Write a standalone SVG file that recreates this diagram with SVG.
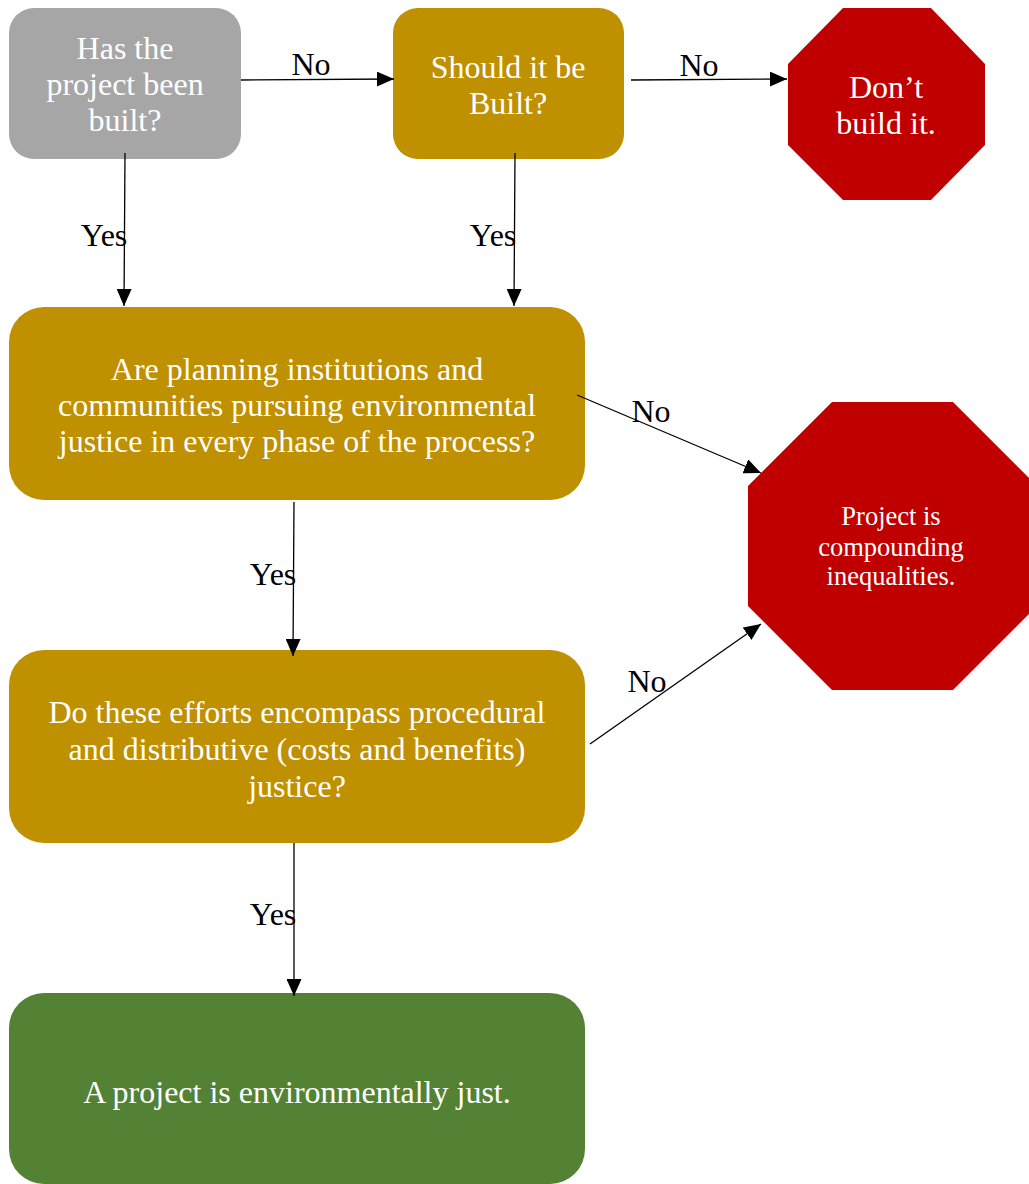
<svg xmlns="http://www.w3.org/2000/svg" width="1029" height="1184" viewBox="0 0 1029 1184">
  <style>
    .node-text { font-family: "Liberation Serif", "Times New Roman", serif; font-size: 32px; fill: #ffffff; text-anchor: middle; }
    .small-text { font-size: 26.5px; }
    .label { font-family: "Liberation Serif", "Times New Roman", serif; font-size: 32px; fill: #000000; text-anchor: middle; }
    .conn { stroke: #000000; stroke-width: 1.3; fill: none; marker-end: url(#arrow); }
    .gray { fill: #a6a6a6; }
    .gold { fill: #bf9000; }
    .red { fill: #c00000; }
    .green { fill: #548235; }
  </style>
  <defs>
    <marker id="arrow" markerUnits="userSpaceOnUse" markerWidth="17" markerHeight="15" refX="17" refY="7.5" orient="auto">
      <path d="M0,0 L17,7.5 L0,15 Z" fill="#000000"/>
    </marker>
  </defs>

  <rect width="1029" height="1184" fill="#ffffff"/>

  <g id="node-built">
    <rect class="gray" x="9" y="8" width="232" height="151" rx="25" ry="25"/>
    <text class="node-text" x="125" y="59">Has the</text>
    <text class="node-text" x="125" y="95">project been</text>
    <text class="node-text" x="125" y="131">built?</text>
  </g>

  <g id="node-should">
    <rect class="gold" x="393" y="8" width="231" height="151" rx="25" ry="25"/>
    <text class="node-text" x="508" y="78">Should it be</text>
    <text class="node-text" x="508" y="114">Built?</text>
  </g>

  <g id="node-dont">
    <polygon class="red" points="843,8 931,8 985,64 985,145 931,200 843,200 788,145 788,64"/>
    <text class="node-text" x="886" y="98">Don’t</text>
    <text class="node-text" x="886" y="134">build it.</text>
  </g>

  <g id="node-pursuing">
    <rect class="gold" x="9" y="307" width="576" height="193" rx="35" ry="35"/>
    <text class="node-text" x="297" y="380">Are planning institutions and</text>
    <text class="node-text" x="297" y="416">communities pursuing environmental</text>
    <text class="node-text" x="297" y="452">justice in every phase of the process?</text>
  </g>

  <g id="node-compounding">
    <polygon class="red" points="832,402 953,402 1037,486 1037,606 953,690 832,690 748,606 748,486"/>
    <text class="node-text small-text" x="891" y="525">Project is</text>
    <text class="node-text small-text" x="891" y="556">compounding</text>
    <text class="node-text small-text" x="891" y="585">inequalities.</text>
  </g>

  <g id="node-efforts">
    <rect class="gold" x="9" y="650" width="576" height="193" rx="35" ry="35"/>
    <text class="node-text" x="297" y="723">Do these efforts encompass procedural</text>
    <text class="node-text" x="297" y="760">and distributive (costs and benefits)</text>
    <text class="node-text" x="297" y="797">justice?</text>
  </g>

  <g id="node-just">
    <rect class="green" x="9" y="993" width="576" height="191" rx="35" ry="35"/>
    <text class="node-text" x="297" y="1103">A project is environmentally just.</text>
  </g>

  <g id="connectors">
    <line class="conn" x1="241" y1="80" x2="394" y2="79"/>
    <line class="conn" x1="631" y1="80" x2="787" y2="79"/>
    <line class="conn" x1="125" y1="153" x2="124" y2="306"/>
    <line class="conn" x1="515" y1="153" x2="514" y2="306"/>
    <line class="conn" x1="577" y1="395" x2="761" y2="473"/>
    <line class="conn" x1="294" y1="502" x2="293" y2="656"/>
    <line class="conn" x1="590" y1="744" x2="761" y2="624"/>
    <line class="conn" x1="294" y1="843" x2="294" y2="996"/>

    <text class="label" x="311" y="75">No</text>
    <text class="label" x="699" y="76">No</text>
    <text class="label" x="104" y="246">Yes</text>
    <text class="label" x="493" y="246">Yes</text>
    <text class="label" x="651" y="422">No</text>
    <text class="label" x="273" y="585">Yes</text>
    <text class="label" x="647" y="692">No</text>
    <text class="label" x="273" y="925">Yes</text>
  </g>
</svg>
